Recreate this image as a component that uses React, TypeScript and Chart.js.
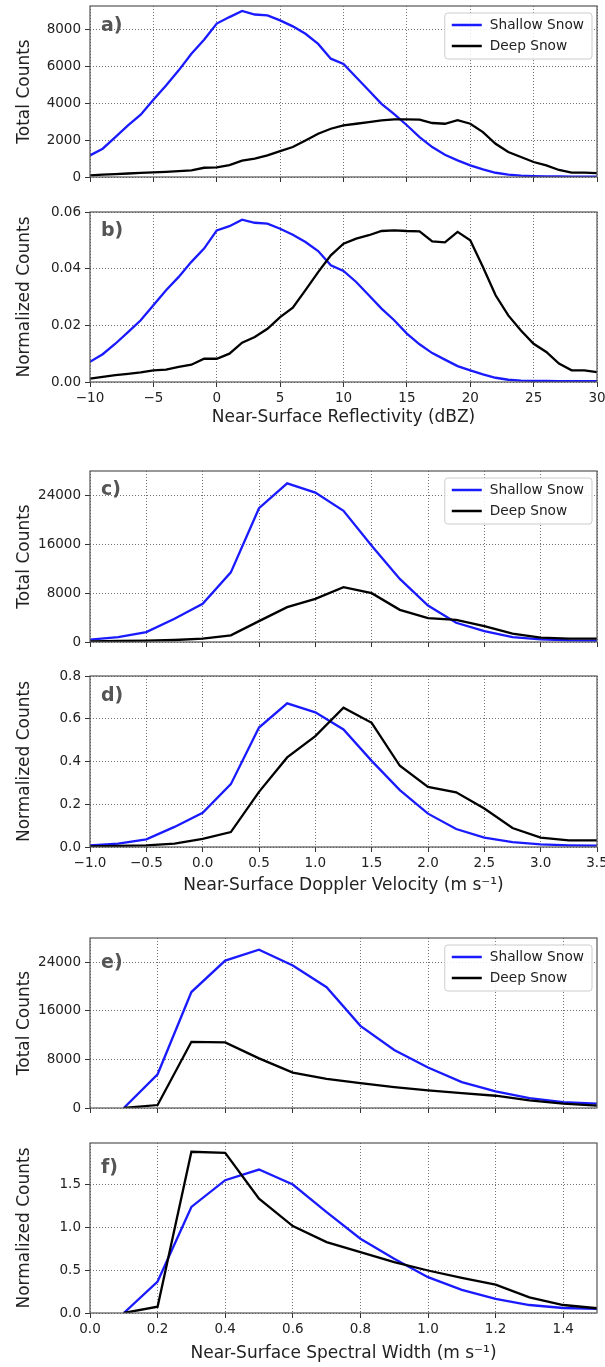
import React, { useEffect, useRef } from 'react';
import { Chart, registerables } from 'chart.js';

Chart.register(...registerables);

// ---------- DATA ----------
// Panels a/b: near-surface reflectivity (dBZ)
const reflectivityX = [-10, -9, -8, -7, -6, -5, -4, -3, -2, -1, 0, 1, 2, 3, 4, 5, 6, 7, 8, 9, 10, 11, 12, 13, 14, 15, 16, 17, 18, 19, 20, 21, 22, 23, 24, 25, 26, 27, 28, 29, 30];
const shallowCountsA = [1170, 1530, 2160, 2790, 3370, 4180, 4950, 5770, 6670, 7420, 8300, 8650, 8980, 8790, 8740, 8470, 8150, 7750, 7200, 6400, 6120, 5400, 4680, 3960, 3400, 2800, 2160, 1620, 1200, 900, 630, 410, 230, 130, 70, 45, 35, 30, 25, 20, 15];
const deepCountsA = [90, 130, 160, 190, 220, 250, 280, 320, 360, 500, 520, 640, 880, 990, 1170, 1400, 1620, 1980, 2340, 2610, 2790, 2880, 2970, 3060, 3120, 3120, 3100, 2920, 2880, 3070, 2880, 2430, 1800, 1350, 1080, 810, 630, 380, 240, 240, 210];
const shallowNormB = [0.0071, 0.0098, 0.0135, 0.0176, 0.0218, 0.0271, 0.0324, 0.0371, 0.0424, 0.0471, 0.0535, 0.055, 0.0573, 0.0562, 0.0559, 0.0541, 0.052, 0.0494, 0.0462, 0.0412, 0.0392, 0.0353, 0.0306, 0.0259, 0.0218, 0.0171, 0.0133, 0.0102, 0.0079, 0.0056, 0.0041, 0.0027, 0.0015, 0.0008, 0.0005, 0.0004, 0.0004, 0.0003, 0.0003, 0.0003, 0.0003];
const deepNormB = [0.0012, 0.0018, 0.0024, 0.0029, 0.0034, 0.0041, 0.0044, 0.0053, 0.0061, 0.0082, 0.0082, 0.01, 0.0139, 0.0159, 0.0188, 0.0229, 0.0262, 0.0324, 0.0388, 0.0447, 0.0488, 0.0506, 0.0518, 0.0533, 0.0535, 0.0533, 0.0532, 0.0496, 0.0493, 0.053, 0.05, 0.0406, 0.0306, 0.0235, 0.0182, 0.0135, 0.0106, 0.0065, 0.0041, 0.0041, 0.0035];

// Panels c/d: near-surface Doppler velocity (m s-1)
const velocityX = [-1.0, -0.75, -0.5, -0.25, 0.0, 0.25, 0.5, 0.75, 1.0, 1.25, 1.5, 1.75, 2.0, 2.25, 2.5, 2.75, 3.0, 3.25, 3.5];
const shallowCountsC = [380, 815, 1630, 3800, 6250, 11400, 21900, 25980, 24460, 21470, 15760, 10330, 5980, 3150, 1790, 815, 435, 270, 220];
const deepCountsC = [110, 160, 220, 330, 540, 1090, 3420, 5700, 7070, 8970, 8000, 5270, 3910, 3640, 2610, 1360, 700, 540, 540];
const shallowNormD = [0.008, 0.016, 0.036, 0.094, 0.16, 0.294, 0.559, 0.672, 0.63, 0.55, 0.403, 0.266, 0.156, 0.084, 0.044, 0.023, 0.0125, 0.008, 0.006];
const deepNormD = [0.003, 0.005, 0.008, 0.016, 0.0375, 0.07, 0.258, 0.419, 0.519, 0.652, 0.581, 0.38, 0.281, 0.256, 0.18, 0.089, 0.044, 0.031, 0.031];

// Panels e/f: near-surface spectral width (m s-1)
const widthX = [0.1, 0.2, 0.3, 0.4, 0.5, 0.6, 0.7, 0.8, 0.9, 1.0, 1.1, 1.2, 1.3, 1.4, 1.5];
const shallowCountsE = [0, 5560, 19100, 24280, 26080, 23460, 19900, 13530, 9550, 6660, 4260, 2730, 1640, 980, 710];
const deepCountsE = [0, 490, 10900, 10800, 8180, 5840, 4800, 4090, 3440, 2890, 2450, 2020, 1250, 710, 380];
const shallowNormF = [0, 0.366, 1.235, 1.547, 1.671, 1.496, 1.176, 0.865, 0.631, 0.417, 0.269, 0.164, 0.093, 0.058, 0.047];
const deepNormF = [0, 0.074, 1.878, 1.866, 1.332, 1.013, 0.826, 0.709, 0.592, 0.495, 0.409, 0.331, 0.183, 0.093, 0.055];

// Tick values
const reflTicks = [-10, -5, 0, 5, 10, 15, 20, 25, 30];
const velTicks = [-1.0, -0.5, 0.0, 0.5, 1.0, 1.5, 2.0, 2.5, 3.0, 3.5];
const widthTicks = [0.0, 0.2, 0.4, 0.6, 0.8, 1.0, 1.2, 1.4];
const yTicksA = [0, 2000, 4000, 6000, 8000];
const yTicksB = [0, 0.02, 0.04, 0.06];
const yTicksC = [0, 8000, 16000, 24000];
const yTicksD = [0, 0.2, 0.4, 0.6, 0.8];
const yTicksE = [0, 8000, 16000, 24000];
const yTicksF = [0, 0.5, 1.0, 1.5];

const seriesLabels = ['Shallow Snow', 'Deep Snow'];

// ---------- STYLE ----------
const FONT = '"DejaVu Sans", sans-serif';
const BLUE = '#1a1aff';
const TXT = '#222';
const GRID = 'rgba(0,0,0,0.55)';
const CW = 615;
const PAD_TOP = 20;
const TITLE_SIZE = 17;
const TICK_SIZE = 13.5;
const LINE_W = 2.3;

Chart.defaults.font.family = FONT;

type Spec = {
  letter: string; top: number; bottom: number; labelDy: number;
  x: number[]; shallow: number[]; deep: number[];
  xMin: number; xMax: number; xTicks: number[]; xDec: number; showX: boolean; xTitle?: string; xTitleOff: number;
  yMax: number; yTicks: number[]; yDec: number; yTitle: string; legend: boolean;
};

const specs: Spec[] = [
  { letter: 'a)', top: 6, bottom: 177, labelDy: 20, x: reflectivityX, shallow: shallowCountsA, deep: deepCountsA, xMin: -10, xMax: 30, xTicks: reflTicks, xDec: 0, showX: false, xTitleOff: 0, yMax: 9250, yTicks: yTicksA, yDec: 0, yTitle: 'Total Counts', legend: true },
  { letter: 'b)', top: 212, bottom: 382, labelDy: 19, x: reflectivityX, shallow: shallowNormB, deep: deepNormB, xMin: -10, xMax: 30, xTicks: reflTicks, xDec: 0, showX: true, xTitle: 'Near-Surface Reflectivity (dBZ)', xTitleOff: 36, yMax: 0.06, yTicks: yTicksB, yDec: 2, yTitle: 'Normalized Counts', legend: false },
  { letter: 'c)', top: 471, bottom: 642, labelDy: 19, x: velocityX, shallow: shallowCountsC, deep: deepCountsC, xMin: -1, xMax: 3.5, xTicks: velTicks, xDec: 1, showX: false, xTitleOff: 0, yMax: 28000, yTicks: yTicksC, yDec: 0, yTitle: 'Total Counts', legend: true },
  { letter: 'd)', top: 676, bottom: 847, labelDy: 20, x: velocityX, shallow: shallowNormD, deep: deepNormD, xMin: -1, xMax: 3.5, xTicks: velTicks, xDec: 1, showX: true, xTitle: 'Near-Surface Doppler Velocity (m s\u207B\u00B9)', xTitleOff: 39, yMax: 0.8, yTicks: yTicksD, yDec: 1, yTitle: 'Normalized Counts', legend: false },
  { letter: 'e)', top: 938, bottom: 1108, labelDy: 25, x: widthX, shallow: shallowCountsE, deep: deepCountsE, xMin: 0, xMax: 1.5, xTicks: widthTicks, xDec: 1, showX: false, xTitleOff: 0, yMax: 28000, yTicks: yTicksE, yDec: 0, yTitle: 'Total Counts', legend: true },
  { letter: 'f)', top: 1143, bottom: 1313, labelDy: 25, x: widthX, shallow: shallowNormF, deep: deepNormF, xMin: 0, xMax: 1.5, xTicks: widthTicks, xDec: 1, showX: true, xTitle: 'Near-Surface Spectral Width (m s\u207B\u00B9)', xTitleOff: 41, yMax: 1.98, yTicks: yTicksF, yDec: 1, yTitle: 'Normalized Counts', legend: false },
];

const fmt = (v: number, d: number) => (v < -1e-9 ? '\u2212' : '') + Math.abs(v).toFixed(d);

const decorPlugin = {
  id: 'panelDecor',
  afterDatasetsDraw(chart: any, _args: any, opts: any) {
    const ctx = chart.ctx as CanvasRenderingContext2D;
    const ca = chart.chartArea;
    ctx.save();
    // panel letter
    ctx.font = `bold 19px ${FONT}`;
    ctx.fillStyle = '#555';
    ctx.textBaseline = 'middle';
    ctx.textAlign = 'left';
    ctx.fillText(opts.letter, ca.left + 11, ca.top + opts.labelDy);
    // legend
    if (opts.legend) {
      ctx.font = `13.7px ${FONT}`;
      const ds = chart.data.datasets;
      const order = [1, 0];
      let tw = 0;
      order.forEach((i) => { tw = Math.max(tw, ctx.measureText(ds[i].label).width); });
      const w = 7 + 30 + 8 + tw + 8;
      const h = 46;
      const x0 = ca.right - 5 - w;
      const y0 = ca.top + 7;
      const r = 3;
      ctx.beginPath();
      ctx.moveTo(x0 + r, y0);
      ctx.lineTo(x0 + w - r, y0);
      ctx.arcTo(x0 + w, y0, x0 + w, y0 + r, r);
      ctx.lineTo(x0 + w, y0 + h - r);
      ctx.arcTo(x0 + w, y0 + h, x0 + w - r, y0 + h, r);
      ctx.lineTo(x0 + r, y0 + h);
      ctx.arcTo(x0, y0 + h, x0, y0 + h - r, r);
      ctx.lineTo(x0, y0 + r);
      ctx.arcTo(x0, y0, x0 + r, y0, r);
      ctx.closePath();
      ctx.fillStyle = 'rgba(255,255,255,0.85)';
      ctx.fill();
      ctx.strokeStyle = '#cccccc';
      ctx.lineWidth = 1;
      ctx.stroke();
      order.forEach((i, k) => {
        const yy = y0 + 12 + k * 21;
        ctx.strokeStyle = ds[i].borderColor;
        ctx.lineWidth = LINE_W + 0.2;
        ctx.beginPath();
        ctx.moveTo(x0 + 7, yy);
        ctx.lineTo(x0 + 37, yy);
        ctx.stroke();
        ctx.fillStyle = TXT;
        ctx.fillText(ds[i].label, x0 + 45, yy);
      });
    }
    // frame
    ctx.strokeStyle = '#555';
    ctx.lineWidth = 1.2;
    ctx.strokeRect(ca.left, ca.top, ca.right - ca.left, ca.bottom - ca.top);
    ctx.restore();
  },
};

function xAxisHeight(s: Spec) {
  return s.showX ? s.xTitleOff + 16 : 14;
}

function Panel({ spec }: { spec: Spec }) {
  const ref = useRef<HTMLCanvasElement>(null);
  const xh = xAxisHeight(spec);
  const height = PAD_TOP + (spec.bottom - spec.top) + xh;
  useEffect(() => {
    const toPts = (ys: number[]) => spec.x.map((x, i) => ({ x, y: ys[i] }));
    const chart = new Chart(ref.current as HTMLCanvasElement, {
      type: 'line',
      data: {
        datasets: [
          { label: seriesLabels[1], data: toPts(spec.deep), borderColor: '#000', backgroundColor: '#000', borderWidth: LINE_W, pointRadius: 0, tension: 0, order: 0 },
          { label: seriesLabels[0], data: toPts(spec.shallow), borderColor: BLUE, backgroundColor: BLUE, borderWidth: LINE_W, pointRadius: 0, tension: 0, order: 1 },
        ],
      },
      options: {
        animation: false,
        responsive: false,
        maintainAspectRatio: false,
        events: [],
        layout: { padding: { top: PAD_TOP, right: CW - 597, left: 0, bottom: 0 } },
        plugins: {
          legend: { display: false },
          tooltip: { enabled: false },
          panelDecor: { letter: spec.letter, labelDy: spec.labelDy, legend: spec.legend },
        } as any,
        scales: {
          x: {
            type: 'linear',
            min: spec.xMin,
            max: spec.xMax,
            afterBuildTicks: (s: any) => { s.ticks = spec.xTicks.map((v) => ({ value: v })); },
            afterFit: (s: any) => { s.height = xh; },
            ticks: {
              autoSkip: false, maxRotation: 0, minRotation: 0, padding: 3, color: TXT,
              font: { family: FONT, size: TICK_SIZE },
              callback: (v: any) => (spec.showX ? fmt(Number(v), spec.xDec) : ''),
            },
            grid: { color: GRID, lineWidth: 1, drawTicks: true, tickLength: 5, tickColor: '#333', tickWidth: 1, tickBorderDash: [] },
            border: { display: false, dash: [1, 2] },
            title: spec.xTitle
              ? { display: true, text: spec.xTitle, color: TXT, font: { family: FONT, size: TITLE_SIZE }, padding: { top: 0, bottom: 16 - TITLE_SIZE * 0.6 } }
              : { display: false },
          },
          y: {
            type: 'linear',
            min: 0,
            max: spec.yMax,
            afterBuildTicks: (s: any) => { s.ticks = spec.yTicks.map((v) => ({ value: v })); },
            afterFit: (s: any) => { s.width = 90; },
            ticks: {
              autoSkip: false, padding: 4, color: TXT,
              font: { family: FONT, size: TICK_SIZE },
              callback: (v: any) => fmt(Number(v), spec.yDec),
            },
            grid: { color: GRID, lineWidth: 1, drawTicks: true, tickLength: 5, tickColor: '#333', tickWidth: 1, tickBorderDash: [] },
            border: { display: false, dash: [1, 2] },
            title: { display: true, text: spec.yTitle, color: TXT, font: { family: FONT, size: TITLE_SIZE }, padding: { top: 14, bottom: 0 } },
          },
        },
      } as any,
      plugins: [decorPlugin],
    });
    return () => chart.destroy();
  }, [spec, xh]);
  return (
    <canvas
      ref={ref}
      width={CW}
      height={height}
      style={{ position: 'absolute', left: 0, top: spec.top - PAD_TOP, width: CW, height }}
    />
  );
}

export default function App() {
  return (
    <div style={{ position: 'absolute', left: 0, top: 0, width: 605, height: 1367, overflow: 'hidden', background: '#fff' }}>
      {specs.map((s) => (
        <Panel key={s.letter} spec={s} />
      ))}
    </div>
  );
}
